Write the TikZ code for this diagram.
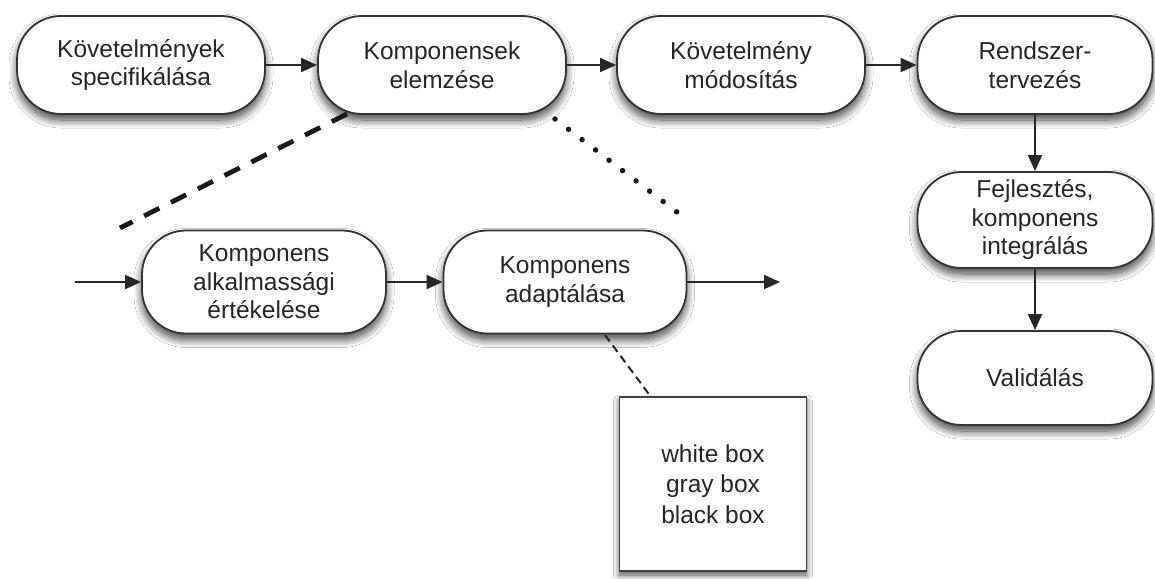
\documentclass[tikz,border=0pt]{standalone}
\usepackage{fontspec}
\setmainfont{Liberation Sans}
\usetikzlibrary{arrows.meta,shadows.blur}

\begin{document}
\begin{tikzpicture}[x=1pt,y=-1pt,
  proc/.style={draw=black!80, line width=1.8pt, fill=white,
    rounded corners=44pt, minimum height=98pt, inner sep=0pt,
    align=center, text=black!85,
    font=\fontsize{24.5}{28.5}\selectfont,
    blur shadow={shadow xshift=0pt, shadow yshift=-6pt,
      shadow blur radius=8pt, shadow blur steps=12, shadow opacity=75}},
  notebox/.style={draw=black!75, line width=1.8pt, fill=white,
    minimum width=187pt, minimum height=174pt, inner sep=0pt,
    align=center, text=black!85,
    font=\fontsize{24.5}{30.5}\selectfont,
    blur shadow={shadow xshift=0pt, shadow yshift=-4pt,
      shadow blur radius=6pt, shadow blur steps=10, shadow opacity=70}},
  flow/.style={draw=black!85, line width=1.8pt,
    -{Triangle[length=16pt,width=14pt]}},
  bigdash/.style={draw=black!90, line width=4.8pt,
    dash pattern=on 17pt off 13pt},
  bigdot/.style={draw=black!90, line width=5.5pt, line cap=round,
    dash pattern=on 0pt off 17pt},
  thindash/.style={draw=black!85, line width=2pt,
    dash pattern=on 8pt off 5pt}
]
\useasboundingbox (0,0) rectangle (1155,578);
\fill[white] (0,0) rectangle (1155,578);

% main process row
\node[proc, minimum width=248pt] (spec) at (141,65) {Követelmények\\specifikálása};
\node[proc, minimum width=248pt] (elem) at (442,65) {Komponensek\\elemzése};
\node[proc, minimum width=248pt] (modo) at (741,65) {Követelmény\\módosítás};
\node[proc, minimum width=235pt] (terv) at (1035,65) {Rendszer-\\tervezés};

% right column
\node[proc, minimum width=235pt, minimum height=96pt] (fejl) at (1035,220) {Fejlesztés,\\komponens\\integrálás};
\node[proc, minimum width=235pt, minimum height=94pt] (vali) at (1035,378) {Validálás};

% detailed sub-process
\node[proc, minimum width=244pt, minimum height=103pt] (alka) at (264,282) {Komponens\\alkalmassági\\értékelése};
\node[proc, minimum width=243pt, minimum height=103pt] (adap) at (565,282) {Komponens\\adaptálása};

% note
\node[notebox] (note) at (713,484) {white box\\gray box\\black box};

% free ends
\coordinate (inbeg) at (75,282);
\coordinate (outend) at (780,282);
\coordinate (zl1) at (347,114);
\coordinate (zl2) at (120,228);
\coordinate (zr1) at (555,119);
\coordinate (zr2) at (690,222);
\coordinate (nt1) at (605,335);
\coordinate (nt2) at (651,397);

% connectors
\draw[flow] (spec) -- (elem);
\draw[flow] (elem) -- (modo);
\draw[flow] (modo) -- (terv);
\draw[flow] (terv) -- (fejl);
\draw[flow] (fejl) -- (vali);
\draw[flow] (inbeg) -- (alka);
\draw[flow] (alka) -- (adap);
\draw[flow] (adap) -- (outend);

% zoom lines and note link
\draw[bigdash] (zl1) -- (zl2);
\draw[bigdot] (zr1) -- (zr2);
\draw[thindash] (nt1) -- (nt2);
\end{tikzpicture}
\end{document}
